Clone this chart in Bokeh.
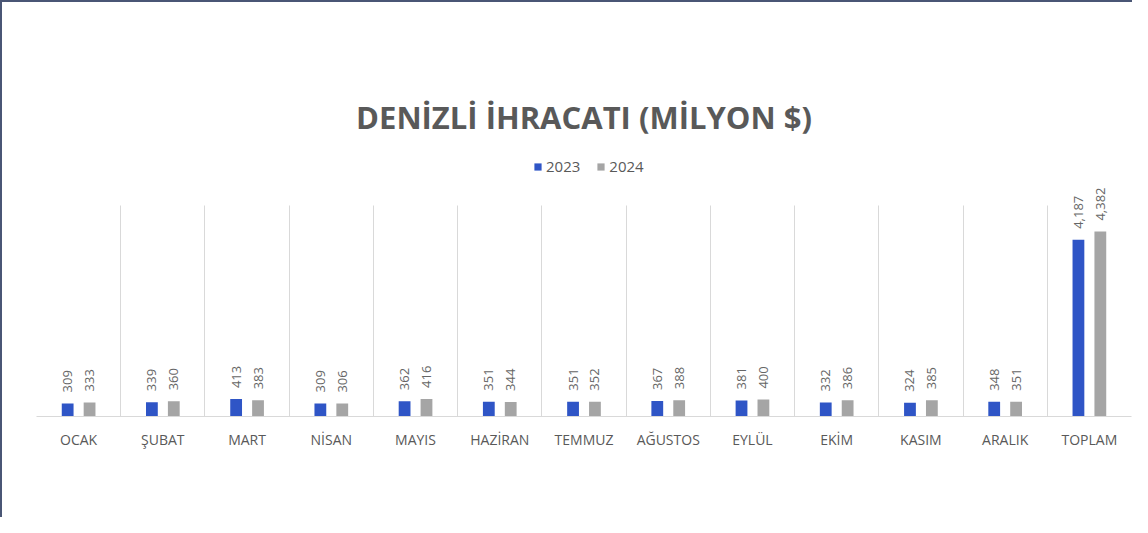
import numpy as np
from bokeh.plotting import figure
from bokeh.models import ColumnDataSource, FixedTicker, Legend, LegendItem, Range1d, LabelSet
from bokeh.transform import dodge
from bokeh.core.properties import value
from bokeh.embed import file_html
from bokeh.resources import INLINE

months = ["OCAK", "ŞUBAT", "MART", "NİSAN", "MAYIS", "HAZİRAN", "TEMMUZ",
          "AĞUSTOS", "EYLÜL", "EKİM", "KASIM", "ARALIK", "TOPLAM"]
exports_2023 = [309, 339, 413, 309, 362, 351, 351, 367, 381, 332, 324, 348, 4187]
exports_2024 = [333, 360, 383, 306, 416, 344, 352, 388, 400, 386, 385, 351, 4382]
years = ["2023", "2024"]
title_text = "DENİZLİ İHRACATI (MİLYON $)"

BLUE = "#2f55c6"
GRAY = "#a5a5a5"
TXT = "#595959"
FONT = "Open Sans"
AXIS_MAX = 5000      # top of the gridded value area
VIEW_MAX = 6540      # extra room above it for the legend

xc = [i + 0.5 for i in range(len(months))]
src = ColumnDataSource(dict(
    x=xc,
    y23=exports_2023,
    y24=exports_2024,
    l23=[f"{v:,}" for v in exports_2023],
    l24=[f"{v:,}" for v in exports_2024],
))

p = figure(width=1132, height=517,
           x_range=Range1d(0, len(months)), y_range=Range1d(0, VIEW_MAX),
           output_backend="svg", toolbar_location=None,
           min_border_left=36, min_border_right=1,
           min_border_bottom=101, min_border_top=140)
p.border_fill_color = None
p.background_fill_color = "white"
p.outline_line_color = None
p.styles = {"box-shadow": "inset 2px 2px 0 #4a5675"}

p.title.text = title_text
p.title.align = "center"
p.title.text_font = FONT
p.title.text_font_size = "31px"
p.title.text_font_style = "bold"
p.title.text_color = TXT
p.title.standoff = 5

off = 0.13
bw = 0.14
r23 = p.vbar(x=dodge("x", -off, range=p.x_range), top="y23", width=bw,
             source=src, fill_color=BLUE, line_color=None)
r24 = p.vbar(x=dodge("x", off, range=p.x_range), top="y24", width=bw,
             source=src, fill_color=GRAY, line_color=None)

for col, lab, d in (("y23", "l23", -off), ("y24", "l24", off)):
    ls = LabelSet(x=dodge("x", d, range=p.x_range), y=col, text=lab, source=src,
                  angle=np.pi / 2, text_align="left", text_baseline="middle",
                  y_offset=11, text_font=value(FONT), text_font_size="13px",
                  text_color="#666666")
    p.add_layout(ls)

legend = Legend(items=[LegendItem(label=years[0], renderers=[r23]),
                       LegendItem(label=years[1], renderers=[r24])],
                orientation="horizontal", location=(497, 240))
legend.glyph_width = 9
legend.glyph_height = 9
legend.label_height = 14
legend.label_standoff = 4
legend.spacing = 16
legend.padding = 0
legend.margin = 0
legend.border_line_color = None
legend.background_fill_color = "white"
legend.background_fill_alpha = 1
legend.label_text_font = FONT
legend.label_text_font_size = "15px"
legend.label_text_color = TXT
p.add_layout(legend)

p.yaxis.visible = False
p.ygrid.grid_line_color = None

p.xaxis.ticker = FixedTicker(ticks=xc)
p.xaxis.major_label_overrides = {x: m for x, m in zip(xc, months)}
p.xaxis.axis_line_color = "#d9d9d9"
p.xaxis.major_tick_line_color = None
p.xaxis.minor_tick_line_color = None
p.xaxis.major_tick_out = 0
p.xaxis.major_label_standoff = 13
p.xaxis.major_label_text_font = FONT
p.xaxis.major_label_text_font_size = "14px"
p.xaxis.major_label_text_color = TXT

p.xgrid.ticker = FixedTicker(ticks=list(range(len(months) + 1)))
p.xgrid.grid_line_color = "#d9d9d9"
try:
    p.xgrid.cross_bounds = (0, AXIS_MAX)
except Exception:
    pass

open("out.html", "w").write(file_html(p, INLINE))
